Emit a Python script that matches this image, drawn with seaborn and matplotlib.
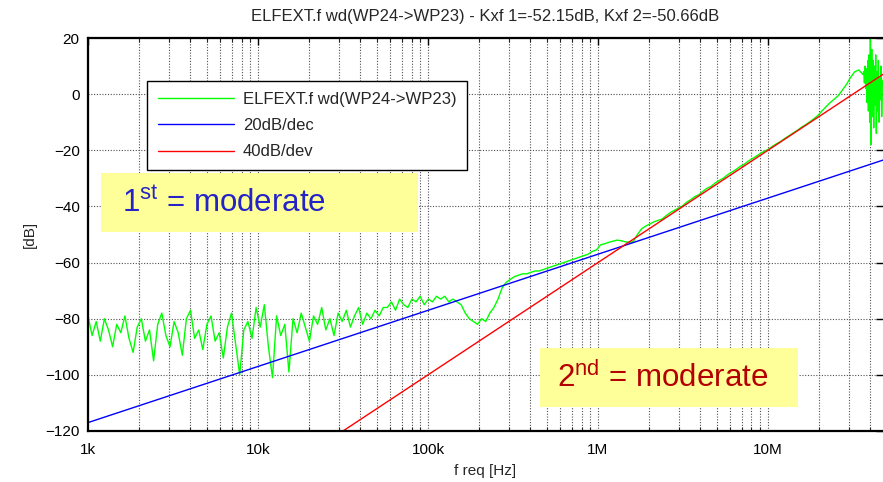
import numpy as np
import pandas as pd
import matplotlib
matplotlib.use('Agg')
import matplotlib.pyplot as plt
import seaborn as sns
from matplotlib.patches import Rectangle
from matplotlib.ticker import FixedLocator, FixedFormatter, LogLocator, NullFormatter

sns.set_theme(style='white')
plt.rcParams['font.family'] = ['Liberation Sans', 'DejaVu Sans']
plt.rcParams['mathtext.fontset'] = 'custom'
plt.rcParams['mathtext.rm'] = 'Liberation Sans'
plt.rcParams['mathtext.it'] = 'Liberation Sans:italic'

title = 'ELFEXT.f wd(WP24->WP23) - Kxf 1=-52.15dB, Kxf 2=-50.66dB'
xlabel = 'f req [Hz]'
ylabel = '[dB]'
legend_labels = ['ELFEXT.f wd(WP24->WP23)', '20dB/dec', '40dB/dev']
xticks = [1e3, 1e4, 1e5, 1e6, 1e7]
xticklabels = ['1k', '10k', '100k', '1M', '10M']
yticks = [-120, -100, -80, -60, -40, -20, 0, 20]

# measured curve, sweep part 1 (1 kHz .. 36.2 MHz)
green_db_a = [
    -79, -86, -81, -88, -80, -84, -90, -82, -85, -79,
    -87, -92, -83, -80, -88, -84, -95, -82, -78, -86,
    -90, -81, -85, -93, -80, -77, -87, -84, -91, -82,
    -79, -88, -85, -94, -83, -78, -89, -100, -84, -81,
    -87, -76,
    -83, -75, -90, -101, -79, -86, -82,
    -99, -80, -85, -78, -83, -88, -79, -82, -76, -84,
    -80, -86, -78, -81, -77, -83, -79, -76, -82, -78,
    -80, -77, -79, -76,
    -76, -74, -77, -73, -75, -76, -73, -74, -72, -75, -73, -74, -72,
    -73, -72, -74, -73, -74,
    -75, -78, -80, -81, -82, -80, -81, -78, -76,
    -73, -69, -67, -66, -65,
    -64.5, -64, -64, -63.5, -63, -63, -62.5, -62, -61.5, -61,
    -60.5, -60, -59.5, -59, -58.5, -58, -57.5, -57, -56, -55.5,
    -53.7, -53.3, -52.8, -52.4, -52.0, -52.2, -52.6, -52.8, -52.5, -50,
    -48, -47, -46.3, -45.5, -45, -44.5, -43.3, -42.2, -41.4, -40.6, -39.8,
    -38.5, -37.6, -36.5, -35.8, -34.6, -33.5, -32.8, -31.6, -30.7, -29.9,
    -28.7, -27.8, -26.9, -25.8, -25.0, -23.9, -23.0, -22.1, -21.1, -20.3,
    -19.6, -18.5, -17.6, -16.8, -15.7, -14.8, -13.8, -12.9, -11.8, -10.9,
    -9.9, -8.8, -7.6,
    -6, -4.5, -3, -1.8, -0.5, 1.5, 3.5, 6, 8, 8.6, 7,
]
# measured curve, sweep part 2 (36.6 MHz .. 47.5 MHz, resonances)
green_db_b = [8, 4, 10, 2, 9, -3, 12, -6, 14, -10,
              20, -18, 16, -8, 12, -12, 10, -4, 14, -14,
              8, -6, 12, -10, 6, -2, 10, -8, 4, 5]

blue_f = [1e3, 4.75e7]
blue_db = [-117.0, -23.5]
red_f = [3.1623e4, 4.75e7]
red_db = [-120.0, 7.07]

green_f = np.concatenate([np.geomspace(1e3, 3.62e7, len(green_db_a)),
                          np.geomspace(3.66e7, 4.75e7, len(green_db_b))])
df_g = pd.DataFrame({'f': green_f, 'db': green_db_a + green_db_b})
df_b = pd.DataFrame({'f': blue_f, 'db': blue_db})
df_r = pd.DataFrame({'f': red_f, 'db': red_db})

fig = plt.figure(figsize=(8.83, 4.82), dpi=100)
ax = fig.add_axes([88/883, 1-431/482, 795/883, 393/482])

sns.lineplot(data=df_g, x='f', y='db', ax=ax, color='#00ff00', lw=1.0,
             estimator=None, sort=False, label=legend_labels[0])
sns.lineplot(data=df_b, x='f', y='db', ax=ax, color='#0000ff', lw=1.0,
             estimator=None, sort=False, label=legend_labels[1])
sns.lineplot(data=df_r, x='f', y='db', ax=ax, color='#ff0000', lw=1.0,
             estimator=None, sort=False, label=legend_labels[2])

ax.set_xscale('log')
ax.set_xlim(1e3, 4.75e7)
ax.set_ylim(-120, 20)
ax.xaxis.set_major_locator(FixedLocator(xticks))
ax.xaxis.set_major_formatter(FixedFormatter(xticklabels))
ax.xaxis.set_minor_locator(LogLocator(base=10, subs=range(2, 10), numticks=20))
ax.xaxis.set_minor_formatter(NullFormatter())
ax.set_yticks(yticks)

gkw = dict(linestyle=(0, (1, 1.5)), color='#505050', lw=0.8)
ax.grid(True, which='major', axis='both', **gkw)
ax.grid(True, which='minor', axis='x', **gkw)
ax.set_axisbelow(True)

ax.tick_params(axis='both', which='major', direction='in', length=5, width=1,
               labelsize=11, colors='black', top=True, right=True)
ax.tick_params(axis='x', which='major', pad=9)
ax.tick_params(axis='y', which='major', pad=6)
ax.tick_params(axis='x', which='minor', direction='in', length=3, width=0.8,
               top=True, bottom=True)
for s in ['left', 'bottom', 'top']:
    ax.spines[s].set_color('black')
    ax.spines[s].set_linewidth(1.6)
ax.spines['right'].set_visible(False)

ax.set_title(title, fontsize=12, pad=12)
ax.set_xlabel(xlabel, fontsize=11, labelpad=5)
ax.set_ylabel(ylabel, fontsize=11, labelpad=6)

leg = ax.legend(loc='upper left', bbox_to_anchor=(0.0742, 0.8906), fontsize=12,
                frameon=True, fancybox=False, edgecolor='black', framealpha=1,
                handlelength=4.6, handletextpad=0.5, labelspacing=0.68,
                borderpad=0.65, borderaxespad=0)
leg.get_frame().set_linewidth(1.0)
leg.set_zorder(5)

# annotation boxes
ax.add_patch(Rectangle((13/795, (431-232)/393), 317/795, 59/393, transform=ax.transAxes,
                       facecolor='#ffff99', edgecolor='none', zorder=6))
ax.text(34/795, (431-204)/393, r'1$^{\mathrm{st}}$ = moderate', transform=ax.transAxes,
        fontsize=22.5, color='#2323c8', ha='left', va='center', zorder=7)
ax.add_patch(Rectangle((452/795, (431-407)/393), 258/795, 59/393, transform=ax.transAxes,
                       facecolor='#ffff99', edgecolor='none', zorder=6))
ax.text(469/795, (431-378)/393, r'2$^{\mathrm{nd}}$ = moderate', transform=ax.transAxes,
        fontsize=22.5, color='#b40000', ha='left', va='center', zorder=7)

fig.savefig('out.png', dpi=100)
